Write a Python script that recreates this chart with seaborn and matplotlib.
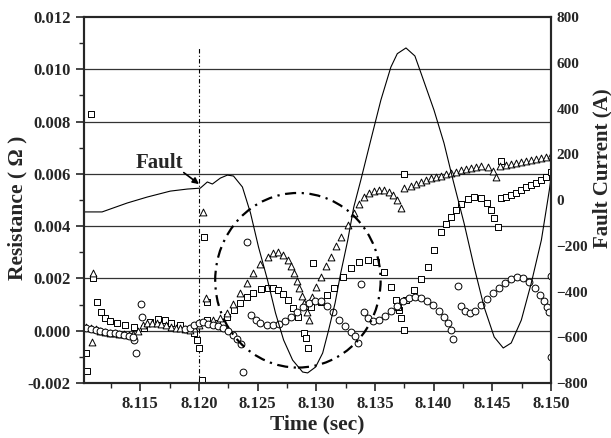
import matplotlib
matplotlib.use('Agg')
import matplotlib.pyplot as plt
import seaborn as sns
import pandas as pd
from matplotlib.patches import Ellipse
from matplotlib.ticker import MultipleLocator, FormatStrFormatter

# fault current (right axis)
current_t = [8.1102, 8.11174, 8.11388, 8.11558, 8.11755, 8.11900, 8.12011, 8.12071, 8.12114,
             8.12182, 8.12242, 8.12294, 8.12370, 8.12439, 8.12507, 8.12584, 8.12652, 8.12721,
             8.12798, 8.12883, 8.12926, 8.12994, 8.13054, 8.13105, 8.13160, 8.13208, 8.13268,
             8.13319, 8.13379, 8.13464, 8.13550, 8.13635, 8.13690, 8.13764, 8.13840, 8.13892,
             8.14003, 8.14088, 8.14165, 8.14259, 8.14345, 8.14430, 8.14516, 8.14593, 8.14661,
             8.14747, 8.14832, 8.14918, 8.14986, 8.15020]
current_a = [-52, -52, -13, 13, 39, 48, 52, 79, 70,
             96, 109, 105, 57, -57, -205, -350, -494, -612,
             -700, -752, -756, -730, -669, -568, -450, -319, -175,
             -31, 87, 262, 437, 581, 640, 665, 630, 555,
             393, 249, 87, -101, -293, -468, -599, -647, -625,
             -525, -363, -175, 44, 175]

# resistance estimates, square markers
square_t = [8.11037, 8.11046, 8.1108, 8.11097,
            8.11131, 8.11165, 8.112, 8.11242, 8.11302, 8.1137, 8.11447, 8.11533, 8.11584, 8.11652,
            8.11712, 8.11764, 8.11841, 8.11909, 8.1196, 8.11986, 8.12003,
            8.12046, 8.12029, 8.12071,
            8.12071, 8.12157, 8.12242, 8.12300, 8.12353, 8.12410, 8.12464, 8.12525, 8.12584, 8.12630,
            8.1267, 8.12715, 8.12755, 8.12800, 8.12841, 8.12892, 8.12909,
            8.12926, 8.12969,
            8.12952, 8.13037, 8.13090, 8.13148, 8.13225, 8.13293, 8.13362, 8.13439, 8.13507, 8.13576,
            8.13635, 8.13678, 8.13704, 8.13721, 8.13747,
            8.13695, 8.13764, 8.13832, 8.13892, 8.13952, 8.14003, 8.14063, 8.14105, 8.14148, 8.14190,
            8.14234, 8.14294, 8.14345, 8.14405, 8.14456, 8.1449, 8.14516, 8.1455,
            8.14576, 8.14620, 8.14661, 8.14705, 8.14747, 8.14790, 8.14832, 8.14875, 8.14918,
            8.14960, 8.15, 8.13747, 8.14576]
square_r = [-0.00084, -0.00156, 0.0083, 0.0020,
            0.0011, 0.00073, 0.0005, 0.00038, 0.0003, 0.00023, 0.00015, 0.00011, 0.00034, 0.00046,
            0.00042, 0.0003, 0.0002, 0.00008, -0.00008, -0.00034, -0.00065,
            0.0036, -0.0019, 0.0011,
            0.00042, 0.0003, 0.00053, 0.0008, 0.00107, 0.00128, 0.00145, 0.00158, 0.00164, 0.00162,
            0.00156, 0.0014, 0.00118, 0.00088, 0.00053, -0.00008, -0.00027,
            -0.00065, 0.0026,
            0.00092, 0.0011, 0.00135, 0.00164, 0.00206, 0.0024, 0.00263, 0.00271, 0.00263, 0.00225,
            0.00168, 0.00118, 0.0008, 0.0005, 0.00004,
            0.00092, 0.00118, 0.00157, 0.00198, 0.00244, 0.00309, 0.00378, 0.0041, 0.00435, 0.0046,
            0.00485, 0.00504, 0.00511, 0.00508, 0.00489, 0.00462, 0.00431, 0.00397,
            0.00508, 0.00513, 0.00519, 0.00528, 0.00538, 0.00548, 0.00557, 0.00566, 0.00576,
            0.0059, 0.00607, 0.0060, 0.0065]

# resistance estimates, triangle markers
triangle_t = [8.11097, 8.11088, 8.12037, 8.12063,
              8.1104, 8.1108, 8.1112, 8.1116, 8.1120, 8.1124, 8.1128, 8.1132, 8.1136, 8.1140,
              8.1144, 8.1148, 8.1152, 8.1156, 8.1160, 8.1164, 8.1168, 8.1172, 8.1176, 8.1180,
              8.1184, 8.1188, 8.1192, 8.1196, 8.1200,
              8.12123, 8.12182, 8.12242, 8.12294, 8.12353, 8.12413, 8.12464, 8.12524, 8.12584,
              8.12627, 8.1267, 8.12712, 8.12755, 8.12781, 8.12806, 8.12832, 8.12849, 8.12875,
              8.12892, 8.12918, 8.12935,
              8.1296, 8.12994, 8.13037, 8.1308, 8.13123, 8.13165, 8.13208, 8.13268, 8.13319,
              8.13362, 8.13405, 8.13447, 8.1349, 8.13533, 8.13576, 8.13618, 8.13652, 8.13687,
              8.13721,
              8.13747, 8.13806, 8.13850, 8.13892, 8.13935, 8.13977, 8.14020, 8.14063, 8.14105,
              8.14148, 8.14190, 8.14234, 8.14275, 8.14319, 8.14360, 8.14405, 8.14465, 8.14507,
              8.14533,
              8.14567, 8.14615, 8.14661, 8.14705, 8.14747, 8.14790, 8.14832, 8.14875, 8.14918,
              8.14960, 8.15]
triangle_r = [0.0022, -0.00042, 0.00454, 0.00126,
              0.00015, 0.0001, 0.00005, 0.0, -0.00005, -0.00008, -0.0001, -0.00012, -0.00014,
              -0.00015, -0.00012, 0.0, 0.0002, 0.0003, 0.0003, 0.00028, 0.00024, 0.0002, 0.00016,
              0.00012, 0.0001, 0.00006, 0.00004, 0.0001, 0.0002,
              0.00042, 0.0005, 0.00069, 0.00103, 0.00145, 0.00183, 0.00221, 0.00256, 0.00282,
              0.00298, 0.00302, 0.0029, 0.00271, 0.00248, 0.00221, 0.00191, 0.00164, 0.00134,
              0.00107, 0.00073, 0.00042,
              0.0013, 0.00168, 0.00206, 0.00248, 0.00282, 0.00324, 0.00359, 0.00405, 0.0045,
              0.00485, 0.00511, 0.00527, 0.00534, 0.00538, 0.00538, 0.00531, 0.00519, 0.005,
              0.0047,
              0.00546, 0.00553, 0.0056, 0.00569, 0.00577, 0.00584, 0.00588, 0.00592, 0.00598,
              0.00603, 0.00609, 0.00615, 0.00618, 0.00622, 0.00626, 0.0063, 0.00626, 0.00611,
              0.00588,
              0.0063, 0.00633, 0.00637, 0.00641, 0.00645, 0.00649, 0.00653, 0.00656, 0.0066,
              0.00665, 0.00672]

# resistance estimates, circle markers
circle_t = [8.11447, 8.11464, 8.11507, 8.11516,
            8.1104, 8.1108, 8.1112, 8.1116, 8.1120, 8.1124, 8.1128, 8.1132, 8.1136, 8.1140,
            8.1144, 8.1188, 8.1192, 8.1196, 8.1200,
            8.12037, 8.1208, 8.12123, 8.12165, 8.12208, 8.12251, 8.12294, 8.12328, 8.12362,
            8.12413, 8.12379,
            8.12439, 8.12482, 8.12524, 8.12576, 8.12627, 8.12678, 8.1273, 8.12781, 8.12832,
            8.12883, 8.12935, 8.12986, 8.13037, 8.13088, 8.1314, 8.13191, 8.13242, 8.13293,
            8.13328, 8.13353, 8.13379,
            8.13405, 8.13439, 8.13482, 8.13533, 8.13584, 8.13635, 8.13687, 8.13738, 8.13789,
            8.13841, 8.13892, 8.13943, 8.13994, 8.14046, 8.14088, 8.14123, 8.14148, 8.14165,
            8.14208,
            8.14234, 8.14268, 8.1431, 8.14353, 8.14405, 8.14456, 8.14507, 8.14558, 8.1461,
            8.14661, 8.14712, 8.14764, 8.14815, 8.14866, 8.14909, 8.14943, 8.14969, 8.14986,
            8.1500, 8.1500]
circle_r = [-0.00034, -0.00084, 0.00103, 0.00053,
            0.0001, 0.00008, 0.00004, 0.0, -0.00004, -0.00008, -0.0001, -0.00013, -0.00016,
            -0.0002, -0.00025, 0.00005, 0.0001, 0.0002, 0.0003,
            0.00034, 0.00027, 0.00023, 0.00019, 0.00011, 0.0, -0.00015, -0.00031, -0.0005,
            0.0034, -0.00157,
            0.00061, 0.00042, 0.00031, 0.00023, 0.00023, 0.00027, 0.00038, 0.00053, 0.00073,
            0.00092, 0.00107, 0.00115, 0.00112, 0.00095, 0.0007, 0.00042, 0.00019, -0.00004,
            -0.0002, -0.00046, 0.0018,
            0.00073, 0.0005, 0.00038, 0.00042, 0.00057, 0.00076, 0.00095, 0.00115, 0.00126,
            0.0013, 0.00126, 0.00115, 0.00099, 0.00076, 0.00053, 0.00031, 0.00004, -0.0003,
            0.0017,
            0.00095, 0.00076, 0.00069, 0.00076, 0.00099, 0.00122, 0.00145, 0.00164, 0.00183,
            0.00198, 0.00206, 0.00202, 0.00187, 0.00164, 0.00137, 0.00115, 0.00092, 0.00073,
            0.0021, -0.0010]

fault_time = 8.120
fault_line_top = 0.0108
ring_center = (8.12843, 0.00193)
ring_size = (0.0141, 0.00668)

sns.set_style("ticks")
plt.rcParams['font.family'] = ['Liberation Serif', 'DejaVu Serif']
plt.rcParams['font.weight'] = 'bold'
plt.rcParams['axes.labelweight'] = 'bold'

fig = plt.figure(figsize=(6.11, 4.38), dpi=100)
ax = fig.add_axes([0.1375, 0.1256, 0.9018 - 0.1375, 0.961 - 0.1256])
ax2 = ax.twinx()

df_cur = pd.DataFrame({'t': current_t, 'I': current_a})
sns.lineplot(data=df_cur, x='t', y='I', ax=ax2, color='black', linewidth=0.8)

series = [(square_t, square_r, 's'), (triangle_t, triangle_r, '^'), (circle_t, circle_r, 'o')]
for tt, rr, mk in series:
    df = pd.DataFrame({'t': tt, 'R': rr})
    sns.scatterplot(data=df, x='t', y='R', ax=ax, marker=mk, color='white',
                    edgecolor='black', linewidth=0.7, s=24, zorder=3)

for y in [0.0, 0.002, 0.004, 0.006, 0.008, 0.010]:
    ax.axhline(y, color='#333333', linewidth=0.9, zorder=1)

ax.plot([fault_time, fault_time], [-0.002, fault_line_top], color='black',
        linewidth=0.8, linestyle=(0, (4, 2, 1, 2)), zorder=2)

ring = Ellipse(ring_center, ring_size[0], ring_size[1], fill=False, edgecolor='black',
               linewidth=1.6, linestyle=(0, (5, 2.5, 1, 2.5)), zorder=4)
ax.add_patch(ring)

ax.text(8.11661, 0.00641, 'Fault', ha='center', va='center', fontsize=15, fontweight='bold')
ax.annotate('', xy=(8.1200, 0.00561), xytext=(8.11870, 0.00605),
            arrowprops=dict(arrowstyle='-|>', color='black', lw=1.2,
                            shrinkA=0, shrinkB=0, mutation_scale=9))

ax.set_xlim(8.1102, 8.150)
ax.set_ylim(-0.002, 0.012)
ax2.set_ylim(-800, 800)

ax.xaxis.set_major_locator(MultipleLocator(0.005))
ax.xaxis.set_minor_locator(MultipleLocator(0.0025))
ax.xaxis.set_major_formatter(FormatStrFormatter('%.3f'))
ax.yaxis.set_major_locator(MultipleLocator(0.002))
ax.yaxis.set_minor_locator(MultipleLocator(0.001))
ax.yaxis.set_major_formatter(FormatStrFormatter('%.3f'))
ax2.yaxis.set_major_locator(MultipleLocator(200))

ax.tick_params(which='major', direction='out', length=6, width=1.2, labelsize=12)
ax.tick_params(which='minor', direction='out', length=3.5, width=1.0)
ax2.tick_params(which='major', direction='in', length=0, pad=4, labelsize=11)
for a in (ax, ax2):
    for sp in a.spines.values():
        sp.set_linewidth(1.5)
        sp.set_visible(True)
    for lab in a.get_xticklabels() + a.get_yticklabels():
        lab.set_fontweight('bold')

ax.set_xlabel('Time (sec)', fontsize=15.5, labelpad=2)
ax.set_ylabel('Resistance ( Ω )', fontsize=15.5, va='center', ha='center')
ax.yaxis.set_label_coords(-0.143, 0.478)
ax2.set_ylabel('Fault Current (A)', fontsize=15, va='center', ha='center')
ax2.yaxis.set_label_coords(1.11, 0.587)

fig.savefig('out.png', dpi=100)
